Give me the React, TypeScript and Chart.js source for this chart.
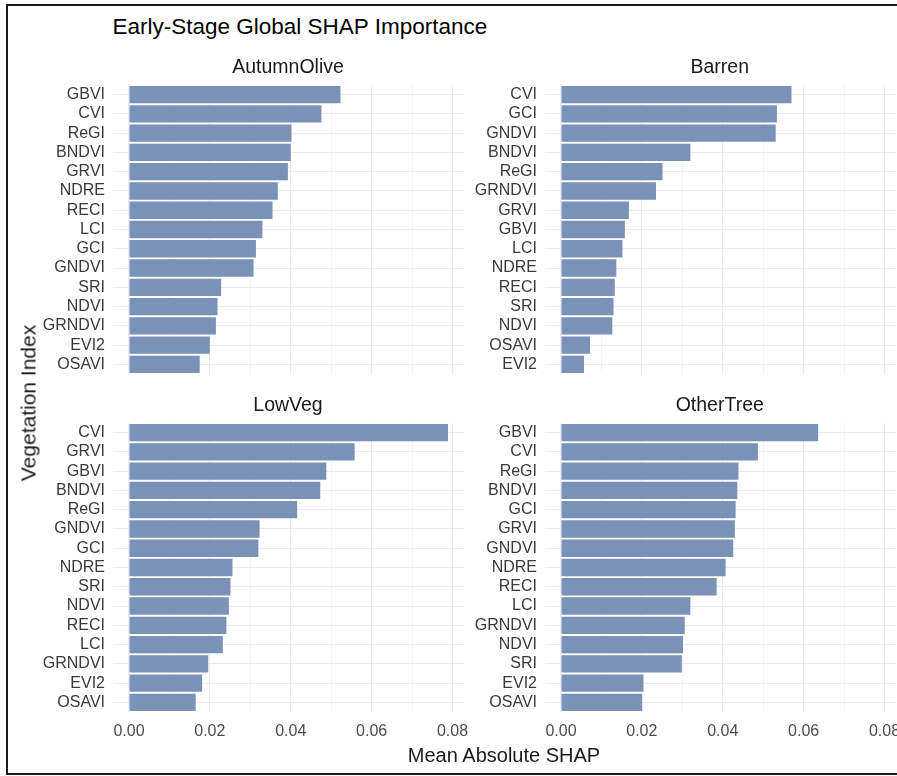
import React, { useEffect, useRef } from 'react';
import { Chart, registerables } from 'chart.js';

Chart.register(...registerables);

// ---------- data ----------
const AUTUMN_OLIVE_LABELS = ['GBVI', 'CVI', 'ReGI', 'BNDVI', 'GRVI', 'NDRE', 'RECI', 'LCI', 'GCI', 'GNDVI', 'SRI', 'NDVI', 'GRNDVI', 'EVI2', 'OSAVI'];
const AUTUMN_OLIVE_VALUES = [0.0523, 0.0476, 0.0402, 0.0400, 0.0393, 0.0368, 0.0355, 0.0330, 0.0314, 0.0308, 0.0228, 0.0219, 0.0215, 0.0200, 0.0175];

const BARREN_LABELS = ['CVI', 'GCI', 'GNDVI', 'BNDVI', 'ReGI', 'GRNDVI', 'GRVI', 'GBVI', 'LCI', 'NDRE', 'RECI', 'SRI', 'NDVI', 'OSAVI', 'EVI2'];
const BARREN_VALUES = [0.0570, 0.0534, 0.0531, 0.0320, 0.0251, 0.0235, 0.0168, 0.0158, 0.0152, 0.0137, 0.0133, 0.0130, 0.0127, 0.0072, 0.0057];

const LOWVEG_LABELS = ['CVI', 'GRVI', 'GBVI', 'BNDVI', 'ReGI', 'GNDVI', 'GCI', 'NDRE', 'SRI', 'NDVI', 'RECI', 'LCI', 'GRNDVI', 'EVI2', 'OSAVI'];
const LOWVEG_VALUES = [0.0789, 0.0558, 0.0488, 0.0473, 0.0416, 0.0323, 0.0320, 0.0256, 0.0251, 0.0247, 0.0241, 0.0232, 0.0196, 0.0181, 0.0165];

const OTHERTREE_LABELS = ['GBVI', 'CVI', 'ReGI', 'BNDVI', 'GCI', 'GRVI', 'GNDVI', 'NDRE', 'RECI', 'LCI', 'GRNDVI', 'NDVI', 'SRI', 'EVI2', 'OSAVI'];
const OTHERTREE_VALUES = [0.0636, 0.0487, 0.0439, 0.0436, 0.0432, 0.0430, 0.0426, 0.0407, 0.0385, 0.0320, 0.0306, 0.0302, 0.0299, 0.0204, 0.0201];

const X_TICKS = [0, 0.01, 0.02, 0.03, 0.04, 0.05, 0.06, 0.07, 0.08];

const TITLE = 'Early-Stage Global SHAP Importance';
const X_TITLE = 'Mean Absolute SHAP';
const Y_TITLE = 'Vegetation Index';

// ---------- style ----------
const FONT = '"Liberation Sans", Arial, Helvetica, sans-serif';
const BAR_COLOR = '#7A91B8';
const GRID_MAJOR = '#EBEBEB';
const GRID_MINOR = '#F3F3F3';
const TICK_COLOR = '#3a3a3a';

const ALL_MAX = Math.max(...AUTUMN_OLIVE_VALUES, ...BARREN_VALUES, ...LOWVEG_VALUES, ...OTHERTREE_VALUES);
const X_MIN = -0.05 * ALL_MAX;
const X_MAX = 1.05 * ALL_MAX;

const isMajor = (v: number) => Math.round(v * 100) % 2 === 0;

type PanelProps = {
  labels: string[];
  values: number[];
  L: number; T: number; R: number; B: number;
  showX: boolean;
};

function Panel({ labels, values, L, T, R, B, showX }: PanelProps) {
  const ref = useRef<HTMLCanvasElement>(null);
  const YW = 95, PT = 24, PR = 26, PB = 24;
  const XH = showX ? 40 : 0;
  const width = YW + (R - L) + PR;
  const height = PT + (B - T) + XH + PB;

  useEffect(() => {
    if (!ref.current) return;
    const chart = new Chart(ref.current, {
      type: 'bar',
      data: {
        labels,
        datasets: [{
          data: values,
          backgroundColor: BAR_COLOR,
          barPercentage: 0.9,
          categoryPercentage: 1,
        }],
      },
      options: {
        indexAxis: 'y',
        responsive: false,
        animation: false,
        devicePixelRatio: 1,
        layout: { padding: { left: 0, top: PT, right: PR, bottom: PB } },
        plugins: { legend: { display: false }, tooltip: { enabled: false }, title: { display: false } },
        scales: {
          x: {
            type: 'linear',
            min: X_MIN,
            max: X_MAX,
            afterBuildTicks: (s: any) => { s.ticks = X_TICKS.map((v) => ({ value: v })); },
            afterFit: (s: any) => { s.height = XH; },
            border: { display: false },
            grid: {
              drawTicks: false,
              lineWidth: 1,
              color: (ctx: any) => (ctx.tick && isMajor(ctx.tick.value) ? GRID_MAJOR : GRID_MINOR),
            },
            ticks: {
              display: showX,
              autoSkip: false,
              maxRotation: 0,
              padding: 10,
              color: '#4D4D4D',
              font: { family: FONT, size: 16, lineHeight: 1.2 },
              callback: (v: any) => (isMajor(Number(v)) ? Number(v).toFixed(2) : ''),
            },
          },
          y: {
            type: 'category',
            offset: true,
            afterFit: (s: any) => { s.width = YW; },
            border: { display: false },
            grid: { offset: false, drawTicks: false, color: GRID_MAJOR, lineWidth: 1 },
            ticks: {
              autoSkip: false,
              padding: 8,
              color: TICK_COLOR,
              font: { family: FONT, size: 16 },
            },
          },
        },
      },
    } as any);
    return () => chart.destroy();
  }, []);

  return (
    <canvas
      ref={ref}
      width={Math.round(width)}
      height={Math.round(height)}
      style={{ position: 'absolute', left: L - YW, top: T - PT, width: Math.round(width), height: Math.round(height) }}
    />
  );
}

const textBase: React.CSSProperties = {
  position: 'absolute',
  fontFamily: FONT,
  lineHeight: 1,
  whiteSpace: 'nowrap',
};

export default function App() {
  // panel geometry (band extents)
  const L1 = 112.5, R1 = 463.5, L2 = 544.5, R2 = 895;
  const T1 = 84.7, B1 = 373.6, T2 = 422.6, B2 = 711.9;

  return (
    <div style={{ position: 'absolute', left: 0, top: 0, width: 897, height: 776, overflow: 'hidden', background: '#fff' }}>
      <div style={{ position: 'absolute', left: 6, top: 4, width: 960, height: 771, border: '2px solid #1a1a1a', boxSizing: 'border-box' }} />

      <Panel labels={AUTUMN_OLIVE_LABELS} values={AUTUMN_OLIVE_VALUES} L={L1} T={T1} R={R1} B={B1} showX={false} />
      <Panel labels={BARREN_LABELS} values={BARREN_VALUES} L={L2} T={T1} R={R2} B={B1} showX={false} />
      <Panel labels={LOWVEG_LABELS} values={LOWVEG_VALUES} L={L1} T={T2} R={R1} B={B2} showX={true} />
      <Panel labels={OTHERTREE_LABELS} values={OTHERTREE_VALUES} L={L2} T={T2} R={R2} B={B2} showX={true} />

      <div style={{ ...textBase, left: 112.5, top: 26.7, transform: 'translateY(-50%)', fontSize: 22.5, color: '#000' }}>{TITLE}</div>

      <div style={{ ...textBase, left: (L1 + R1) / 2, top: 67, transform: 'translate(-50%,-50%)', fontSize: 19.5, color: '#1a1a1a' }}>AutumnOlive</div>
      <div style={{ ...textBase, left: (L2 + R2) / 2, top: 67, transform: 'translate(-50%,-50%)', fontSize: 19.5, color: '#1a1a1a' }}>Barren</div>
      <div style={{ ...textBase, left: (L1 + R1) / 2, top: 405, transform: 'translate(-50%,-50%)', fontSize: 19.5, color: '#1a1a1a' }}>LowVeg</div>
      <div style={{ ...textBase, left: (L2 + R2) / 2, top: 405, transform: 'translate(-50%,-50%)', fontSize: 19.5, color: '#1a1a1a' }}>OtherTree</div>

      <div style={{ ...textBase, left: 504, top: 755, transform: 'translate(-50%,-50%)', fontSize: 20, color: '#1a1a1a' }}>{X_TITLE}</div>
      <div style={{ ...textBase, left: 28, top: 403, transform: 'translate(-50%,-50%) rotate(-90deg)', fontSize: 21, color: '#1a1a1a' }}>{Y_TITLE}</div>
    </div>
  );
}
